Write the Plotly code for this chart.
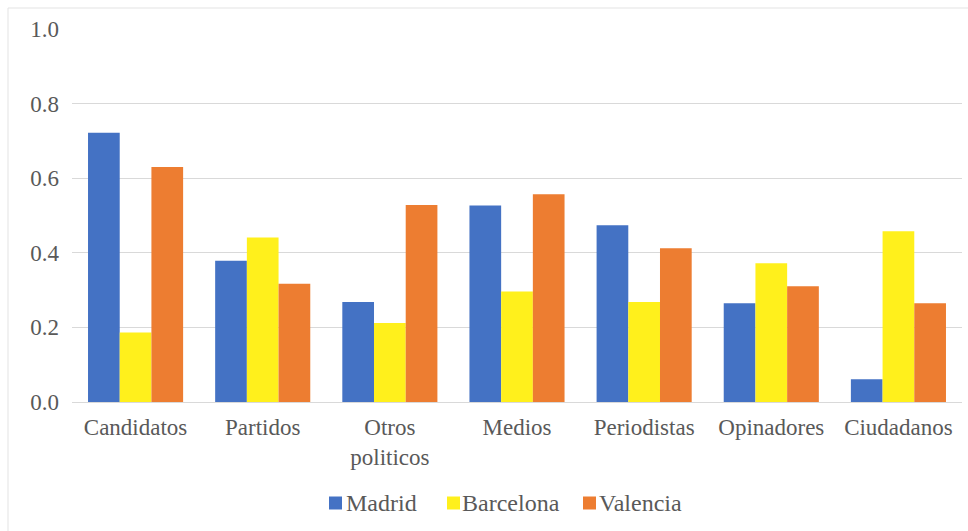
import plotly.graph_objects as go

categories = ["Candidatos", "Partidos", "Otros<br>politicos", "Medios",
              "Periodistas", "Opinadores", "Ciudadanos"]
madrid = [0.722, 0.379, 0.268, 0.527, 0.474, 0.265, 0.061]
barcelona = [0.186, 0.441, 0.212, 0.296, 0.268, 0.372, 0.458]
valencia = [0.630, 0.317, 0.528, 0.557, 0.412, 0.310, 0.265]
y_ticks = [0.0, 0.2, 0.4, 0.6, 0.8, 1.0]

series = [
    ("Madrid", madrid, "#4472C4"),
    ("Barcelona", barcelona, "#FFF01C"),
    ("Valencia", valencia, "#ED7D31"),
]

FONT = "Liberation Serif"
TEXT_COLOR = "#595959"
GRID = "#d9d9d9"

fig = go.Figure()
for name, values, color in series:
    fig.add_trace(go.Bar(
        x=categories, y=values, name=name, showlegend=False,
        marker=dict(color=color, line=dict(width=0)),
    ))

# Plot area spans x 72..962 px and y 29..402 px of the 968x531 page
W, H = 968, 531
L, R, T, B = 72, 6, 29, 129
pw, ph = W - L - R, H - T - B

def px_x(x):
    return (x - L) / pw

def px_y(y):
    return (H - B - y) / ph

# light frame around the chart (top and left edges)
fig.add_shape(type="line", xref="paper", yref="paper",
              x0=px_x(8), x1=px_x(W), y0=px_y(8), y1=px_y(8),
              line=dict(color="#e3e3e3", width=1))
fig.add_shape(type="line", xref="paper", yref="paper",
              x0=px_x(8), x1=px_x(8), y0=px_y(8), y1=px_y(H),
              line=dict(color="#e3e3e3", width=1))

# compact legend: colour square followed directly by the series name
legend_square_x = [329, 447, 583]
legend_text_x = [344, 460, 597]
legend_cy = 503
for (name, _, color), sx, tx in zip(series, legend_square_x, legend_text_x):
    fig.add_shape(type="rect", xref="paper", yref="paper",
                  x0=px_x(sx), x1=px_x(sx + 13),
                  y0=px_y(legend_cy - 6.5), y1=px_y(legend_cy + 6.5),
                  fillcolor=color, line=dict(width=0))
    fig.add_annotation(xref="paper", yref="paper",
                       x=px_x(tx), y=px_y(legend_cy),
                       xanchor="left", yanchor="middle",
                       text=name, showarrow=False,
                       font=dict(family=FONT, size=24, color=TEXT_COLOR))

fig.update_layout(
    width=W, height=H,
    margin=dict(l=L, r=R, t=T, b=B, pad=0),
    paper_bgcolor="white", plot_bgcolor="white",
    barmode="group", bargap=0.252, bargroupgap=0,
    font=dict(family=FONT, size=23, color=TEXT_COLOR),
    showlegend=False,
    xaxis=dict(showgrid=False, showline=False, ticks="", zeroline=False,
               tickfont=dict(family=FONT, size=23, color=TEXT_COLOR),
               ticklabelstandoff=9, fixedrange=True),
    yaxis=dict(range=[0, 1.0], tickvals=y_ticks,
               ticktext=[f"{v:.1f}" for v in y_ticks],
               showgrid=True, gridcolor=GRID, gridwidth=1,
               zeroline=True, zerolinecolor=GRID, zerolinewidth=1,
               showline=False, ticks="",
               tickfont=dict(family=FONT, size=23, color=TEXT_COLOR),
               ticklabelstandoff=12, fixedrange=True),
)

fig.write_html("out.html")
